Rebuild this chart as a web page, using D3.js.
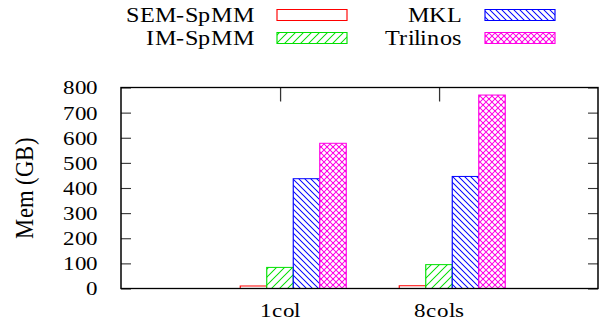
<!DOCTYPE html>
<html>
<head>
<meta charset="utf-8">
<script src="https://cdn.jsdelivr.net/npm/d3@7"></script>
<style>
  @font-face {
    font-family: "ChartSerif";
    src: local("Liberation Serif"), local("LiberationSerif"), local("LiberationSerif-Regular");
  }
  body { margin: 0; }
  svg text { font-family: "ChartSerif", "Liberation Serif", serif !important; }
</style>
</head>
<body>
<script>
// data
const categories = ["1col", "8cols"];
const seriesNames = ["SEM-SpMM", "IM-SpMM", "MKL", "Trilinos"];
const semSpmm = [10, 11];
const imSpmm = [84, 95];
const mkl = [437, 446];
const trilinos = [578, 770];
const yTicks = [0, 100, 200, 300, 400, 500, 600, 700, 800];

const seriesValues = [semSpmm, imSpmm, mkl, trilinos];
const colors = ["#ff0000", "#00e000", "#0000ff", "#ff00e6"];
const fills = ["none", "hatch-up", "hatch-down", "cross"];
const FONT = "Liberation Serif";

// the original picture is stretched horizontally, so draw in a narrower space and stretch it back
const SX = 1.15;
const W = 603 / SX, H = 322;
const px = v => v / SX;

const plot = { left: px(121), right: px(598), top: 87.5, bottom: 288.5 };

const svg = d3.select("body").append("svg")
  .attr("width", 603)
  .attr("height", H)
  .attr("viewBox", `0 0 ${W} ${H}`)
  .attr("preserveAspectRatio", "none")
  .attr("font-family", FONT);

const defs = svg.append("defs");

function addPattern(id, color, w, h, d) {
  const p = defs.append("pattern")
    .attr("id", id)
    .attr("patternUnits", "userSpaceOnUse")
    .attr("width", w)
    .attr("height", h);
  p.append("rect").attr("width", w).attr("height", h).attr("fill", "#fff");
  p.append("path").attr("d", d).attr("stroke", color).attr("stroke-width", 0.9).attr("fill", "none");
}

const upPath = (w, h) => `M0,${h} L${w},0 M${-w / 2},${h / 2} L${w / 2},${-h / 2} M${w / 2},${h * 1.5} L${w * 1.5},${h / 2}`;
const downPath = (w, h) => `M0,0 L${w},${h} M${-w / 2},${h / 2} L${w / 2},${h * 1.5} M${w / 2},${-h / 2} L${w * 1.5},${h / 2}`;

addPattern("hatch-up", colors[1], px(8), 8, upPath(px(8), 8));
addPattern("hatch-down", colors[2], px(6), 6, downPath(px(6), 6));
addPattern("cross", colors[3], px(6), 6, upPath(px(6), 6) + " " + downPath(px(6), 6));

const fillOf = i => fills[i] === "none" ? "#fff" : `url(#${fills[i]})`;

const x = d3.scaleLinear().domain([-1, 2]).range([plot.left, plot.right]);
const y = d3.scaleLinear().domain([0, 800]).range([plot.bottom, plot.top]);

const barW = 1 / 6;

// bars
seriesValues.forEach((values, s) => {
  svg.append("g").selectAll("rect")
    .data(values)
    .join("rect")
    .attr("x", (d, i) => x(i - 0.25 + s * barW))
    .attr("width", x(barW) - x(0))
    .attr("y", d => y(d))
    .attr("height", d => y(0) - y(d))
    .attr("fill", fillOf(s))
    .attr("stroke", colors[s])
    .attr("stroke-width", 1);
});

// axes
const leftAxis = svg.append("g")
  .attr("transform", `translate(${plot.left},0)`)
  .call(d3.axisLeft(y).tickValues(yTicks).tickSize(-px(10)).tickPadding(px(23)));

const rightAxis = svg.append("g")
  .attr("transform", `translate(${plot.right},0)`)
  .call(d3.axisRight(y).tickValues(yTicks).tickSize(-px(10)).tickFormat(""));

const topAxis = svg.append("g")
  .attr("transform", `translate(0,${plot.top})`)
  .call(d3.axisTop(x).tickValues([0, 1]).tickSize(-14).tickFormat(""));

const bottomAxis = svg.append("g")
  .attr("transform", `translate(0,${plot.bottom})`)
  .call(d3.axisBottom(x).tickValues([0, 1]).tickSize(0).tickPadding(14).tickFormat(i => categories[i]));

[leftAxis, rightAxis, topAxis, bottomAxis].forEach(g => {
  g.attr("font-family", FONT).attr("font-size", 20);
  g.select(".domain").remove();
  g.selectAll(".tick line").attr("stroke", "#333").attr("stroke-width", 1.1);
  g.selectAll("text")
    .attr("font-family", FONT)
    .attr("font-size", 20)
    .attr("fill", "#000");
});

svg.append("rect")
  .attr("x", plot.left)
  .attr("y", plot.top)
  .attr("width", plot.right - plot.left)
  .attr("height", plot.bottom - plot.top)
  .attr("fill", "none")
  .attr("stroke", "#000")
  .attr("stroke-width", 1.3);

// y label
svg.append("text")
  .attr("transform", `translate(${px(24)},${(plot.top + plot.bottom) / 2}) rotate(-90)`)
  .attr("text-anchor", "middle")
  .attr("dy", "0.35em")
  .attr("font-family", FONT)
  .attr("font-size", 23)
  .text("Mem (GB)");

// legend
const legendCols = [{ textEnd: px(254), box: px(277) }, { textEnd: px(462), box: px(485) }];
const legendRows = [15, 38];
const boxW = px(70), boxH = 11;

seriesNames.forEach((name, s) => {
  const col = legendCols[Math.floor(s / 2)];
  const cy = legendRows[s % 2];
  const g = svg.append("g");
  g.append("text")
    .attr("x", col.textEnd)
    .attr("y", cy)
    .attr("dy", "0.33em")
    .attr("text-anchor", "end")
    .attr("font-family", FONT)
    .attr("font-size", 21.5)
    .text(name);
  g.append("rect")
    .attr("x", col.box)
    .attr("y", cy - boxH / 2)
    .attr("width", boxW)
    .attr("height", boxH)
    .attr("fill", fillOf(s))
    .attr("stroke", colors[s])
    .attr("stroke-width", 1);
});
</script>
</body>
</html>
